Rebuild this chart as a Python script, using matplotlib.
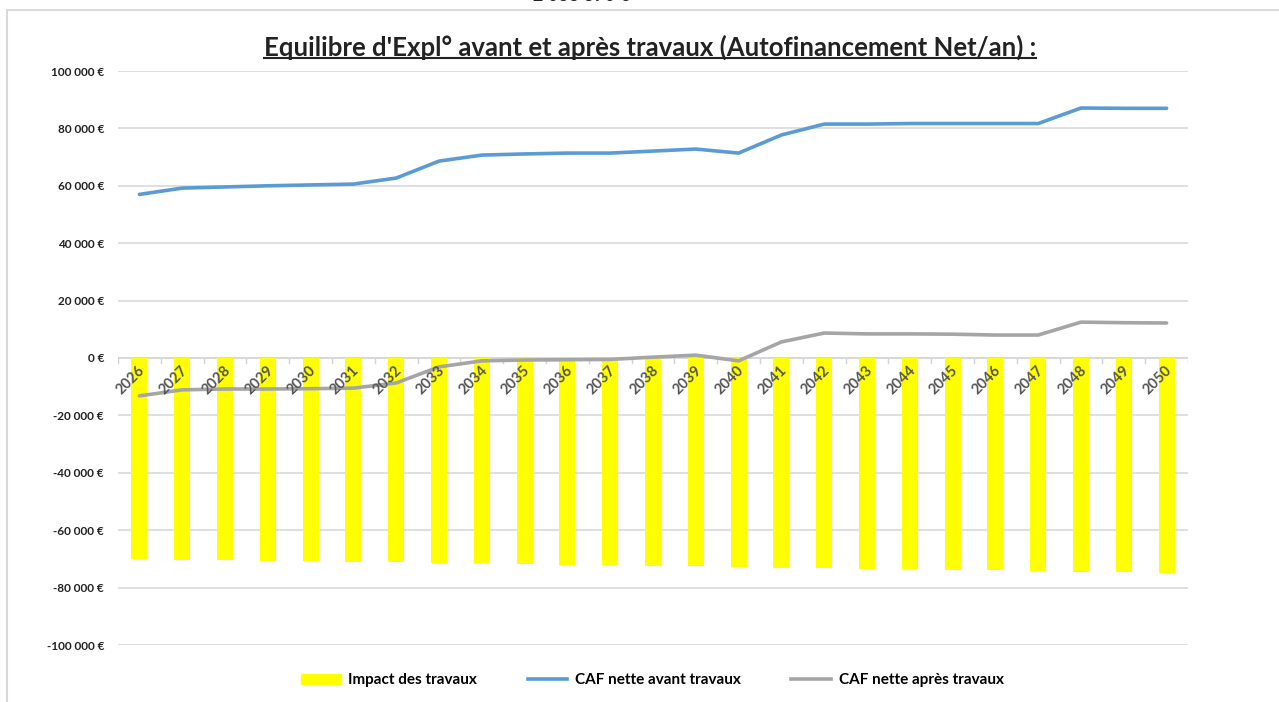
import matplotlib
matplotlib.use("Agg")
import matplotlib.pyplot as plt
from matplotlib.lines import Line2D
from matplotlib.patches import Rectangle

plt.rcParams["font.family"] = ["Lato", "DejaVu Sans"]

# Données
annees = [str(a) for a in range(2026, 2051)]
impact_travaux = [-70200, -70300, -70400, -70600, -70800, -71000, -71200, -71400,
                  -71600, -71800, -72000, -72200, -72400, -72600, -72800, -73000,
                  -73200, -73400, -73600, -73800, -74000, -74200, -74400, -74600, -74800]
caf_avant = [57000, 59200, 59600, 60000, 60300, 60600, 62700, 68600, 70700, 71100,
             71400, 71400, 72100, 72800, 71400, 77700, 81500, 81500, 81700, 81700,
             81700, 81700, 87100, 87000, 87000]
caf_apres = [-13200, -11100, -10800, -10800, -10700, -10500, -8700, -3100, -1000, -700,
             -600, -500, 300, 1000, -1000, 5600, 8700, 8400, 8400, 8300,
             8000, 8000, 12500, 12300, 12200]
y_ticks = list(range(-100000, 100001, 20000))

titre = "Equilibre d'Expl° avant et après travaux (Autofinancement Net/an) :"

fig = plt.figure(figsize=(12.79, 7.02), dpi=100)
fig.patch.set_facecolor("white")

# cadre du graphique
fig.add_artist(Rectangle((7 / 1279, -0.01), 1.0, (702 - 10) / 702 + 0.01,
                         transform=fig.transFigure, fill=False,
                         edgecolor="#d9d9d9", linewidth=1.5))
# texte coupé en haut de l'image (comme sur la capture)
fig.text(0.455, 1.0 - 4 / 702, "2 033 370 €", ha="center", va="bottom",
         fontsize=13, fontweight="bold", color="#222222")

ax = fig.add_axes([118 / 1279, 57 / 702, 1070 / 1279, 574 / 702])
x = list(range(len(annees)))

ax.bar(x, impact_travaux, width=0.37, color="#ffff00", label="Impact des travaux", zorder=2)
ax.plot(x, caf_avant, color="#5b9bd5", linewidth=2.6, label="CAF nette avant travaux",
        solid_capstyle="round", zorder=3)
ax.plot(x, caf_apres, color="#a5a5a5", linewidth=2.6, label="CAF nette après travaux",
        solid_capstyle="round", zorder=3)

ax.set_xlim(-0.5, len(annees) - 0.5)
ax.set_ylim(-100000, 100000)
ax.set_yticks(y_ticks)
ax.set_yticklabels([f"{v:,}".replace(",", " ") + " €" if v != 0 else "0 €" for v in y_ticks],
                   fontsize=8.5, fontweight="bold", color="#222222")
ax.tick_params(axis="y", length=0, pad=10)
ax.set_xticks([])
ax.grid(axis="y", color="#d9d9d9", linewidth=1.2, zorder=0)
ax.axhline(0, color="#d0d0e0", linewidth=1.2, zorder=1)
for i in range(len(annees) + 1):
    ax.plot([i - 0.5, i - 0.5], [0, -1800], color="#d0d0e0", linewidth=1, zorder=1)
for s in ax.spines.values():
    s.set_visible(False)

# étiquettes des années près de l'axe
for i, a in enumerate(annees):
    ax.text(i - 0.2, -1800, a, rotation=45, ha="center", va="top",
            fontsize=10.5, fontweight="bold", color="#555555", zorder=4)

fig.text(0.508, 0.933, titre, ha="center", va="center",
         fontsize=18.5, fontweight="bold", color="#222222")

handles = [Rectangle((0, 0), 1, 1, color="#ffff00"),
           Line2D([], [], color="#5b9bd5", linewidth=2.6),
           Line2D([], [], color="#a5a5a5", linewidth=2.6)]
fig.legend(handles, ["Impact des travaux", "CAF nette avant travaux", "CAF nette après travaux"],
           loc="center", bbox_to_anchor=(0.51, 0.031), ncol=3, frameon=False,
           prop={"size": 11, "weight": "bold"}, handlelength=2.6, columnspacing=3.3,
           handleheight=0.6, handletextpad=0.5)

# soulignement du titre
fig.canvas.draw()
t = [tx for tx in fig.texts if tx.get_text() == titre][0]
bb = t.get_window_extent().transformed(fig.transFigure.inverted())
fig.add_artist(Line2D([bb.x0, bb.x1], [bb.y0 + 0.002, bb.y0 + 0.002],
                      transform=fig.transFigure, color="#222222", linewidth=1.5))

plt.savefig("out.png", dpi=100)
